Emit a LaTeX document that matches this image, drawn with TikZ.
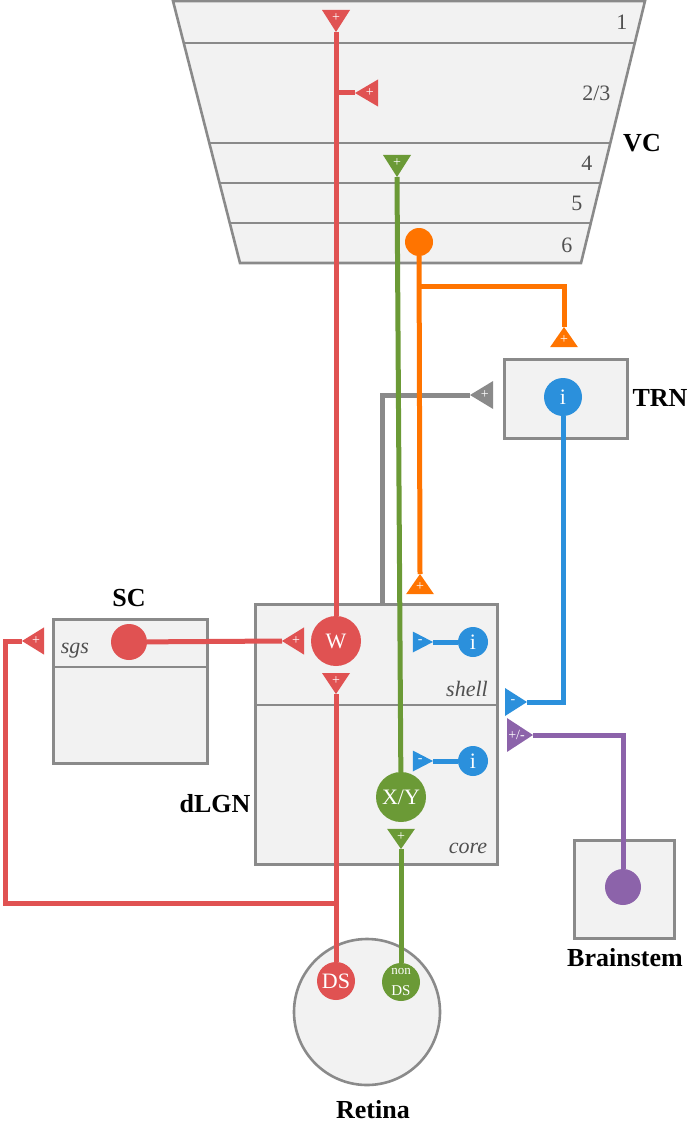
\documentclass[tikz,border=0pt]{standalone}
\usepackage{fontspec}
\setmainfont{Liberation Serif}
\usetikzlibrary{calc}
\definecolor{wred}{HTML}{E05252}
\definecolor{xygreen}{HTML}{6B9A36}
\definecolor{ctxorange}{HTML}{FF7400}
\definecolor{inhblue}{HTML}{2B90DC}
\definecolor{bspurple}{HTML}{8C63AA}
\definecolor{linegray}{HTML}{8A8A8A}
\definecolor{boxfill}{HTML}{F2F2F2}
\definecolor{textgray}{HTML}{505050}

\begin{document}
\begin{tikzpicture}[x=1pt, y=-1pt,
    area/.style={draw=linegray, fill=boxfill, line width=2.6pt, inner sep=0pt},
    cell/.style={circle, fill=#1, inner sep=0pt, text=white, font=\fontsize{22}{22}\selectfont},
    axon/.style={draw=#1, line width=5pt},
    sgn/.style={text=white, font=\fontsize{14}{14}\selectfont, inner sep=0pt},
    pics/syn/.style 2 args={code={
        \fill[#1] (0,0) -- (-22,-14) -- (-22,14) -- cycle;
        \coordinate (-apex) at (0,0);
        \node[sgn] at (-14,0) {#2};
    }},
    region/.style={font=\fontsize{26}{26}\selectfont\bfseries},
    layer/.style={text=textgray, font=\fontsize{22}{22}\selectfont, anchor=east},
    part/.style={text=textgray, font=\fontsize{22}{22}\selectfont\itshape}]
    \useasboundingbox (0,0) rectangle (690,1126);

    % Areas
    \coordinate (vctl) at (173,1);
    \coordinate (vctr) at (645,1);
    \coordinate (vcbr) at (581,263);
    \coordinate (vcbl) at (240,263);
    \draw[area] (vctl) -- (vctr) -- (vcbr) -- (vcbl) -- cycle;
    \foreach \t in {0.1603,0.5420,0.6947,0.8473}
        \draw[linegray, line width=2.6pt] ($(vctl)!\t!(vcbl)$) -- ($(vctr)!\t!(vcbr)$);
    \node[area, anchor=north west, minimum width=123pt, minimum height=79pt] (trn) at (503,358) {};
    \node[area, anchor=north west, minimum width=154pt, minimum height=144pt] (sc) at (52,618) {};
    \draw[linegray, line width=2.6pt] (sc.west |- 0,667) -- (sc.east |- 0,667);
    \node[area, anchor=north west, minimum width=242pt, minimum height=260pt] (dlgn) at (254,603) {};
    \draw[linegray, line width=2.6pt] (dlgn.west |- 0,705) -- (dlgn.east |- 0,705);
    \node[area, anchor=north west, minimum width=100pt, minimum height=98pt] (bs) at (573,839) {};
    \node[area, circle, minimum size=146pt] (retina) at (367,1012) {};

    % Labels
    \node[layer] at (631,22) {1};
    \node[layer] at (614,93) {2/3};
    \node[layer] at (596,163) {4};
    \node[layer] at (586,203) {5};
    \node[layer] at (576,245) {6};
    \node[region] (vclab) at (642,143) {VC};
    \node[region] (trnlab) at (660,398) {TRN};
    \node[region] (sclab) at (129,598) {SC};
    \node[region] (dlgnlab) at (215,804) {dLGN};
    \node[region] (bslab) at (625,958) {Brainstem};
    \node[region] (retlab) at (373,1110) {Retina};
    \node[part] at (75,651) {sgs};
    \node[part] at (467,689) {shell};
    \node[part] at (468,848) {core};

    % Synapses
    \pic[rotate=-90] (vcW) at (336,32) {syn={wred}{+}};
    \pic[rotate=180, xscale=1.05, yscale=0.97] (l23W) at (355,93) {syn={wred}{+}};
    \pic[rotate=-90] (l4XY) at (397,177) {syn={xygreen}{+}};
    \pic[rotate=90, xscale=0.92] (trnO) at (564,327) {syn={ctxorange}{+}};
    \pic[rotate=90, xscale=0.92] (lgnO) at (420,574) {syn={ctxorange}{+}};
    \pic[rotate=180, xscale=1.05] (trnG) at (470,395) {syn={linegray}{+}};
    \pic (lgnB) at (527,702) {syn={inhblue}{-}};
    \pic[xscale=1.18, yscale=1.21] (lgnP) at (533,735) {syn={bspurple}{+/-}};
    \pic[rotate=180, yscale=0.97] (lgnW) at (282,641) {syn={wred}{+}};
    \pic[rotate=-90, xscale=0.95] (Wout) at (336,694) {syn={wred}{+}};
    \pic[xscale=0.92, yscale=0.75] (iSt) at (433,642) {syn={inhblue}{-}};
    \pic[xscale=0.92, yscale=0.75] (iCt) at (433,761) {syn={inhblue}{-}};
    \pic[rotate=-90, xscale=0.92] (XYout) at (401,849) {syn={xygreen}{+}};
    \pic[rotate=180, yscale=0.97] (scW) at (22,641) {syn={wred}{+}};

    % Cells
    \node[cell=ctxorange, minimum size=28pt] (L6) at (419,242) {};
    \node[cell=inhblue, minimum size=38pt] (TRNi) at (563,397) {i};
    \node[cell=wred, minimum size=50pt] (W) at (336,641) {W};
    \node[cell=xygreen, minimum size=50pt] (XY) at (401,797) {X/Y};
    \node[cell=inhblue, minimum size=30pt] (iS) at (473,642) {i};
    \node[cell=inhblue, minimum size=30pt] (iC) at (473,761) {i};
    \node[cell=wred, minimum size=36pt] (SCs) at (129,642) {};
    \node[cell=bspurple, minimum size=36pt] (BSs) at (623,887) {};
    \node[cell=wred, minimum size=38pt] (DS) at (336,981) {DS};
    \node[cell=xygreen, minimum size=38pt, align=center] (nonDS) at (401,982)
        {{\fontsize{13}{13}\selectfont non}\\[-1pt]{\fontsize{15}{15}\selectfont DS}};

    % Axons
    \coordinate (obranch) at (419,286);
    \coordinate (gshell) at (382,603);
    \coordinate (loop) at (5,903);
    \draw[axon=linegray] (gshell) |- (trnG-apex);
    \draw[axon=wred] (vcW-apex) -- (W);
    \draw[axon=wred] (vcW-apex |- l23W-apex) -- (l23W-apex);
    \draw[axon=wred] (Wout-apex) -- (DS);
    \draw[axon=wred] (SCs) -- (lgnW-apex);
    \draw[axon=wred] (DS |- loop) -- (loop) |- (scW-apex);
    \draw[axon=xygreen] (l4XY-apex) -- (XY);
    \draw[axon=xygreen] (XYout-apex) -- (nonDS);
    \draw[axon=ctxorange] (L6) -- (lgnO-apex);
    \draw[axon=ctxorange] (obranch) -| (trnO-apex);
    \draw[axon=inhblue] (TRNi) |- (lgnB-apex);
    \draw[axon=inhblue] (iS) -- (iSt-apex);
    \draw[axon=inhblue] (iC) -- (iCt-apex);
    \draw[axon=bspurple] (BSs) |- (lgnP-apex);
\end{tikzpicture}
\end{document}
